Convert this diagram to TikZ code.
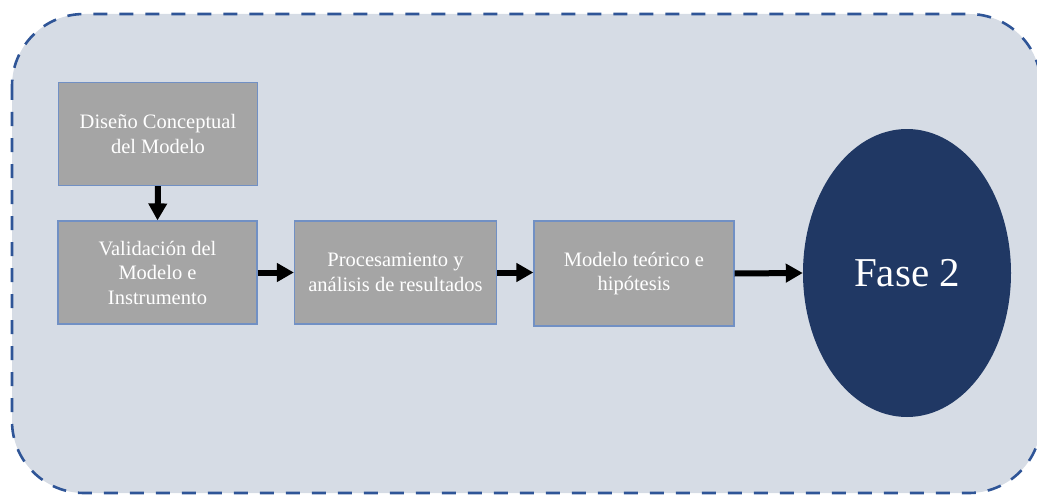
\documentclass[tikz,border=0pt]{standalone}
\usepackage{fontspec}
\setmainfont{Liberation Serif}
\usetikzlibrary{arrows.meta,shapes.geometric}
\definecolor{panel}{HTML}{D6DCE5}
\definecolor{panelline}{HTML}{2F5597}
\definecolor{boxfill}{HTML}{A5A5A5}
\definecolor{boxline}{HTML}{7190C4}
\definecolor{phase}{HTML}{203864}
\begin{document}
\begin{tikzpicture}[x=1pt,y=-1pt,
  stepbox/.style={draw=boxline, line width=1.2pt, fill=boxfill, text=white,
    minimum width=199pt, minimum height=103pt, inner sep=0pt,
    align=center, font=\fontsize{20.5}{24.5}\selectfont},
  flow/.style={line width=6pt, -{Triangle[length=17pt,width=18pt]}}]
\useasboundingbox (0,0) rectangle (1037,495);
\clip (0,0) rectangle (1037,495);
% dashed rounded panel, running past the right edge
\draw[fill=panel, draw=panelline, line width=2.6pt, dash pattern=on 14pt off 12pt,
  rounded corners=72pt] (12,14) rectangle (1041,493);
% process boxes
\node[stepbox] (dis) at (158,134) {Diseño Conceptual\\del Modelo};
\node[stepbox] (val) at (157.5,272.5) {Validación del\\Modelo e\\Instrumento};
\node[stepbox, minimum width=202pt] (pro) at (395.5,272.5) {Procesamiento y\\análisis de resultados};
\node[stepbox, minimum width=200pt, minimum height=105pt] (teo) at (634,273.5) {Modelo teórico e\\hipótesis};
% phase ellipse
\node[ellipse, fill=phase, text=white, minimum width=208pt, minimum height=288pt,
  inner sep=0pt, font=\fontsize{41}{48}\selectfont] (fase) at (907,273) {Fase 2};
% connectors
\draw[flow] (dis.south) -- (val.north);
\draw[flow] (val.east) -- (pro.west);
\draw[flow] (pro.east) -- (teo.west |- pro.east);
\draw[flow] (teo.east) -- (fase.west);
\end{tikzpicture}
\end{document}
